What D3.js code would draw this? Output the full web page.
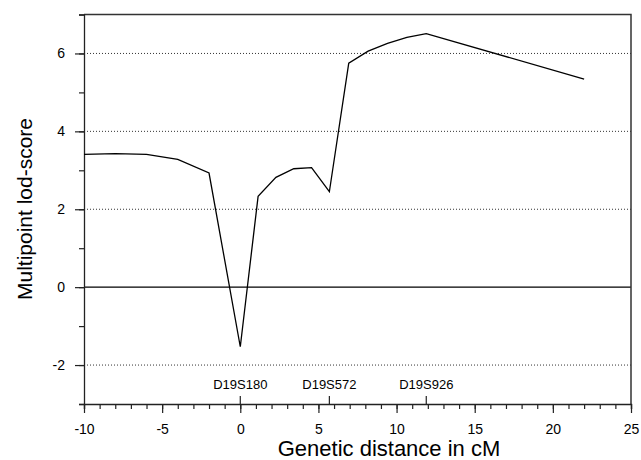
<!DOCTYPE html>
<html>
<head>
<meta charset="utf-8">
<script src="https://cdn.jsdelivr.net/npm/d3@7"></script>
<style>
  body { margin: 0; background: #fff; }
  svg { display: block; }
  svg text { font-family: "Liberation Sans", Arial, sans-serif; fill: #000; }
</style>
</head>
<body>
<svg id="chart" width="641" height="460"></svg>
<script>
// lod-score curve
const distance = [-10, -8, -6, -4, -2, 0, 1.14, 2.28, 3.42, 4.56, 5.7, 6.94, 8.18, 9.42, 10.66, 11.9, 22];
const lodScore = [3.41, 3.43, 3.41, 3.28, 2.93, -1.53, 2.33, 2.82, 3.04, 3.07, 2.45, 5.75, 6.06, 6.26, 6.41, 6.51, 5.34];

const markerNames = ['D19S180', 'D19S572', 'D19S926'];
const markerPos = [0, 5.7, 11.9];

const xTicks = [-10, -5, 0, 5, 10, 15, 20, 25];
const yTicks = [-2, 0, 2, 4, 6];
const gridValues = [-2, 2, 4, 6];

const margin = {top: 14.5, right: 10, bottom: 56, left: 84};
const width = 641, height = 460;

const svg = d3.select('#chart');

const x = d3.scaleLinear()
    .domain([-10, 25])
    .range([margin.left, width - margin.right]);
const y = d3.scaleLinear()
    .domain([-3, 7])
    .range([height - margin.bottom, margin.top]);

// dotted grid lines
svg.append('g')
    .selectAll('line')
    .data(gridValues).enter().append('line')
    .attr('x1', x(-10)).attr('x2', x(25))
    .attr('y1', d => y(d)).attr('y2', d => y(d))
    .attr('stroke', '#333')
    .attr('stroke-width', 1)
    .attr('stroke-dasharray', '1,2');

// zero line
svg.append('line')
    .attr('x1', x(-10)).attr('x2', x(25))
    .attr('y1', y(0)).attr('y2', y(0))
    .attr('stroke', '#000')
    .attr('stroke-width', 1.3);

// frame (top + right)
svg.append('path')
    .attr('d', `M${x(-10)},${y(7)}H${x(25)}V${y(-3)}`)
    .attr('fill', 'none')
    .attr('stroke', '#333')
    .attr('stroke-width', 1.5);

const fmt = d => String(d);   // plain hyphen, like the original

// x axis: majors every 5, minors every 1
const xAxis = svg.append('g')
    .attr('transform', `translate(0,${y(-3)})`)
    .call(d3.axisBottom(x).tickValues(d3.range(-10, 26, 1)).tickSize(5).tickFormat(''));
const xMajor = xAxis.append('g')
    .call(d3.axisBottom(x).tickValues(xTicks).tickSize(9).tickPadding(6).tickFormat(fmt));
xMajor.select('.domain').remove();
xMajor.selectAll('.tick text').attr('dy', null).attr('y', 29.5);

// y axis: majors every 2, minors every 1
const yAxis = svg.append('g')
    .attr('transform', `translate(${x(-10)},0)`)
    .call(d3.axisLeft(y).tickValues(d3.range(-3, 8, 1)).tickSize(5).tickFormat(''));
const yMajor = yAxis.append('g')
    .call(d3.axisLeft(y).tickValues(yTicks).tickSize(9).tickPadding(10).tickFormat(fmt));
yMajor.select('.domain').remove();

svg.selectAll('.domain').attr('stroke', '#222').attr('stroke-width', 1.3);
svg.selectAll('.tick line').attr('stroke', '#222').attr('stroke-width', 1.2);
svg.selectAll('.tick text').style('font-size', '14px');

// marker ticks and names above the x axis
const markers = svg.append('g')
    .selectAll('g')
    .data(markerNames).enter().append('g')
    .attr('transform', (d, i) => `translate(${x(markerPos[i])},${y(-3)})`);
markers.append('line')
    .attr('y1', 0).attr('y2', -8)
    .attr('stroke', '#222').attr('stroke-width', 1.2);
markers.append('text')
    .attr('y', -15.5)
    .attr('text-anchor', 'middle')
    .style('font-size', '13px')
    .text(d => d);

// curve
const line = d3.line()
    .x((d, i) => x(distance[i]))
    .y(d => y(d));
svg.append('path')
    .datum(lodScore)
    .attr('d', line)
    .attr('fill', 'none')
    .attr('stroke', '#000')
    .attr('stroke-width', 1.3)
    .attr('stroke-linejoin', 'miter');

// axis titles
svg.append('text')
    .attr('x', 389)
    .attr('y', 456)
    .attr('text-anchor', 'middle')
    .style('font-size', '22px')
    .text('Genetic distance in cM');

svg.append('text')
    .attr('transform', `translate(32,209) rotate(-90)`)
    .attr('text-anchor', 'middle')
    .style('font-size', '21px')
    .text('Multipoint lod-score');
</script>
</body>
</html>
